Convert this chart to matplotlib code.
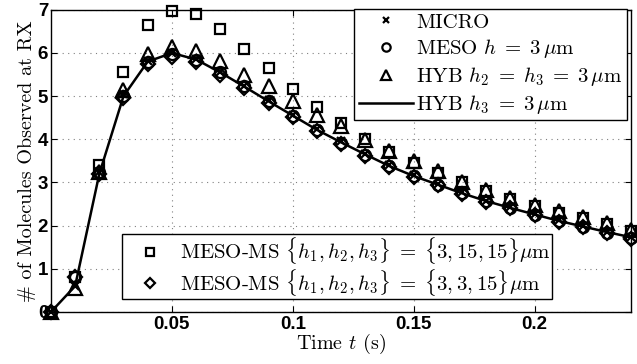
import matplotlib
matplotlib.use('Agg')
import matplotlib.pyplot as plt

plt.rcParams['mathtext.fontset'] = 'cm'

# Tiempo de muestreo (s)
t = [0.00, 0.01, 0.02, 0.03, 0.04, 0.05, 0.06, 0.07, 0.08, 0.09,
     0.10, 0.11, 0.12, 0.13, 0.14, 0.15, 0.16, 0.17, 0.18, 0.19,
     0.20, 0.21, 0.22, 0.23, 0.24]

micro = [0, 0.60, 3.25, 5.05, 5.82, 6.00, 5.85, 5.57, 5.24, 4.90,
         4.56, 4.25, 3.95, 3.67, 3.40, 3.17, 2.97, 2.77, 2.58, 2.43,
         2.27, 2.12, 1.99, 1.86, 1.74]
meso = [0, 0.80, 3.25, 5.00, 5.78, 5.97, 5.83, 5.55, 5.23, 4.88,
        4.53, 4.22, 3.92, 3.64, 3.37, 3.16, 2.95, 2.75, 2.56, 2.41,
        2.25, 2.10, 1.97, 1.84, 1.71]
hyb_h2h3 = [0, 0.55, 3.25, 5.15, 5.97, 6.15, 6.05, 5.82, 5.50, 5.23,
            4.88, 4.57, 4.30, 3.99, 3.72, 3.49, 3.26, 3.02, 2.83, 2.64,
            2.48, 2.33, 2.20, 2.06, 1.90]
hyb_h3 = [0, 0.60, 3.20, 5.00, 5.80, 6.00, 5.85, 5.55, 5.22, 4.88,
          4.55, 4.22, 3.93, 3.65, 3.38, 3.15, 2.95, 2.75, 2.57, 2.41,
          2.26, 2.11, 1.98, 1.85, 1.73]
meso_ms_15 = [0, 0.80, 3.40, 5.55, 6.64, 6.98, 6.90, 6.56, 6.10, 5.65,
              5.17, 4.76, 4.38, 4.01, 3.70, 3.45, 3.22, 3.00, 2.80, 2.62,
              2.45, 2.30, 2.17, 2.03, 1.88]
meso_ms_3 = [0, 0.80, 3.20, 4.95, 5.75, 5.90, 5.80, 5.50, 5.20, 4.85,
             4.52, 4.20, 3.90, 3.62, 3.35, 3.13, 2.93, 2.73, 2.55, 2.40,
             2.24, 2.09, 1.96, 1.83, 1.70]

xticks = [0.05, 0.1, 0.15, 0.2]
xtick_labels = ['0.05', '0.1', '0.15', '0.2']
yticks = [0, 1, 2, 3, 4, 5, 6, 7]

fig = plt.figure(figsize=(6.37, 3.64), dpi=100)
ax = fig.add_axes([0.080, 0.143, 0.911, 0.830])

mk = dict(linestyle='none', fillstyle='none', color='black',
          markeredgewidth=1.6, clip_on=False)

l_line, = ax.plot(t, hyb_h3, '-', color='black', linewidth=1.8,
                  clip_on=False, label=r'HYB $h_3\;=\;3\,\mu$m')
l_sq, = ax.plot(t, meso_ms_15, marker='s', markersize=7.5, **mk,
                label=r'MESO-MS $\{h_1, h_2, h_3\}\;=\;\{3, 15, 15\}\mu$m')
l_tri, = ax.plot(t, hyb_h2h3, marker='^', markersize=10, **mk,
                 label=r'HYB $h_2\;=\;h_3\;=\;3\,\mu$m')
l_circ, = ax.plot(t, meso, marker='o', markersize=8, **mk,
                  label=r'MESO $h\;=\;3\,\mu$m')
l_dia, = ax.plot(t, meso_ms_3, marker='D', markersize=7, **mk,
                 label=r'MESO-MS $\{h_1, h_2, h_3\}\;=\;\{3, 3, 15\}\mu$m')
l_x, = ax.plot(t, micro, marker='x', markersize=6, **mk, label='MICRO')

ax.set_xlim(0, 0.24)
ax.set_ylim(0, 7)
ax.set_xticks(xticks)
ax.set_xticklabels(xtick_labels)
ax.set_yticks(yticks)
for lab in ax.get_xticklabels() + ax.get_yticklabels():
    lab.set_fontfamily('Liberation Sans')
    lab.set_fontweight('bold')
    lab.set_fontsize(13.5)

ax.tick_params(direction='in', top=True, right=True, length=4, width=0.8, pad=3)
ax.tick_params(axis='y', pad=2)
ax.grid(True, linestyle=(0, (1, 4)), color='gray', linewidth=0.8)
for sp in ax.spines.values():
    sp.set_linewidth(1.0)

ax.set_xlabel(r'Time $t$ (s)', fontfamily='cmr10', fontsize=14.5, labelpad=-1)
ax.set_ylabel('# of Molecules Observed at RX', fontfamily='cmr10',
              fontsize=14.5, labelpad=1)

leg_kw = dict(frameon=True, fancybox=False, edgecolor='black', framealpha=1,
              prop={'family': 'cmr10', 'size': 15}, handletextpad=0.15,
              borderaxespad=0, markerscale=0.75, handlelength=2.6)
leg1 = ax.legend([l_x, l_circ, l_tri, l_line],
                 [l_x.get_label(), l_circ.get_label(), l_tri.get_label(),
                  l_line.get_label()],
                 loc='upper right', bbox_to_anchor=(0.992, 1.003),
                 borderpad=0.2, labelspacing=0.25, **leg_kw)
leg1.get_frame().set_linewidth(1.0)
ax.add_artist(leg1)
leg2 = ax.legend([l_sq, l_dia], [l_sq.get_label(), l_dia.get_label()],
                 loc='lower left', bbox_to_anchor=(0.122, 0.043),
                 borderpad=0.05, labelspacing=0.02, **leg_kw)
leg2.get_frame().set_linewidth(1.0)

fig.savefig('out.png', dpi=100)
